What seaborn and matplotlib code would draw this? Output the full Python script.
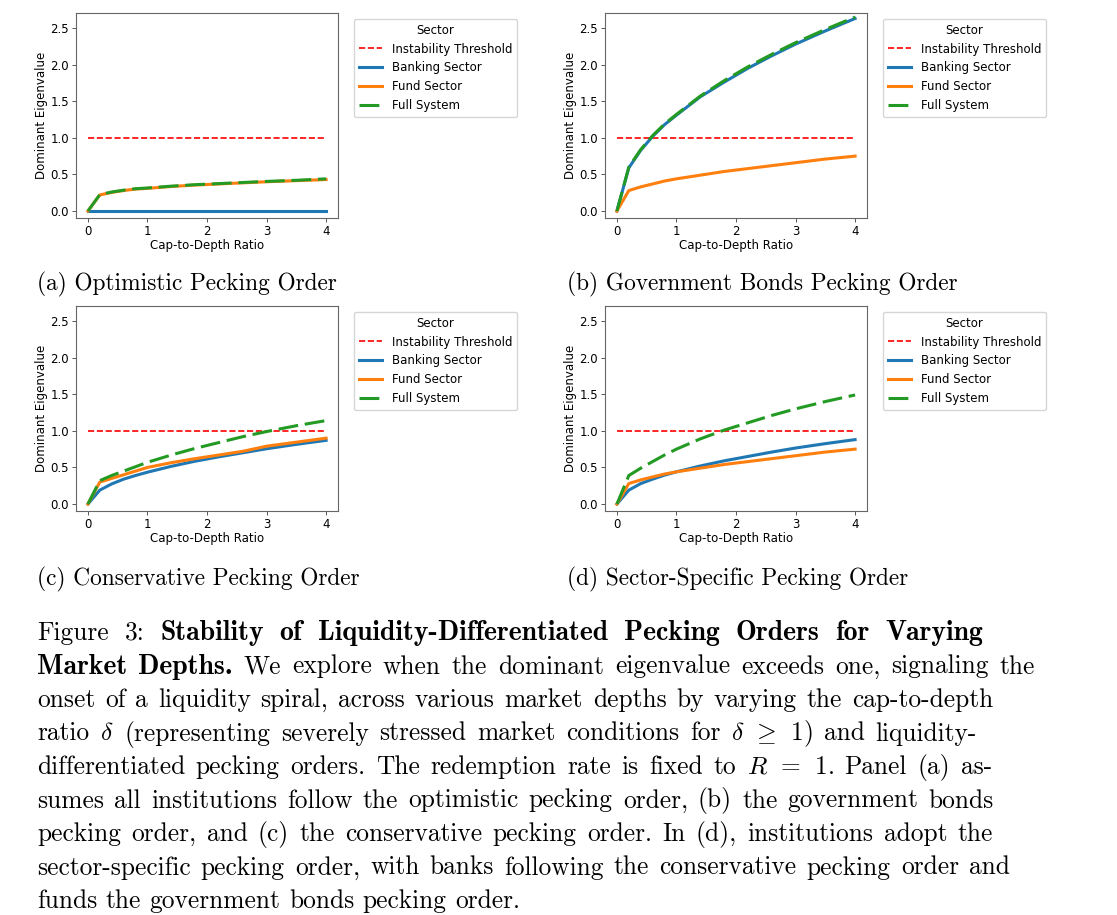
import numpy as np
import pandas as pd
import seaborn as sns
import matplotlib.pyplot as plt

# ==========================
# Data
# ==========================

# cap-to-depth ratio grid
ratio = [0, 0.2, 0.4, 0.6, 0.8, 1.0, 1.4, 1.8, 2.2, 2.6, 3.0, 3.5, 4.0]

# instability threshold
threshold_x = [0, 4]
threshold_y = [1.0, 1.0]

# (a) optimistic pecking order
opt_bank = [0, 0, 0, 0, 0, 0, 0, 0, 0, 0, 0, 0, 0]
opt_fund = [0, 0.22, 0.255, 0.28, 0.30, 0.31, 0.335, 0.355, 0.37, 0.385, 0.40, 0.415, 0.43]
opt_full = [0, 0.225, 0.26, 0.285, 0.305, 0.315, 0.34, 0.36, 0.375, 0.39, 0.405, 0.42, 0.44]

# (b) government bonds pecking order
gov_bank = [0, 0.59, 0.83, 1.02, 1.18, 1.31, 1.56, 1.76, 1.95, 2.12, 2.28, 2.46, 2.63]
gov_fund = [0, 0.28, 0.33, 0.37, 0.41, 0.44, 0.49, 0.54, 0.58, 0.62, 0.66, 0.71, 0.75]
gov_full = [0, 0.60, 0.84, 1.03, 1.19, 1.32, 1.57, 1.78, 1.97, 2.14, 2.30, 2.48, 2.65]

# (c) conservative pecking order
con_bank = [0, 0.19, 0.275, 0.34, 0.39, 0.435, 0.515, 0.585, 0.645, 0.70, 0.755, 0.815, 0.87]
con_fund = [0, 0.30, 0.35, 0.40, 0.45, 0.50, 0.565, 0.62, 0.67, 0.72, 0.79, 0.845, 0.90]
con_full = [0, 0.32, 0.39, 0.45, 0.51, 0.57, 0.67, 0.76, 0.84, 0.92, 0.99, 1.07, 1.14]

# (d) sector-specific pecking order
sec_bank = [0, 0.19, 0.28, 0.34, 0.395, 0.44, 0.52, 0.59, 0.65, 0.71, 0.765, 0.825, 0.88]
sec_fund = [0, 0.28, 0.33, 0.37, 0.41, 0.44, 0.49, 0.54, 0.58, 0.62, 0.66, 0.71, 0.75]
sec_full = [0, 0.39, 0.49, 0.58, 0.67, 0.75, 0.89, 1.01, 1.11, 1.21, 1.30, 1.40, 1.49]

sectors = ["Banking Sector", "Fund Sector", "Full System"]
panel_titles = [
    "(a) Optimistic Pecking Order",
    "(b) Government Bonds Pecking Order",
    "(c) Conservative Pecking Order",
    "(d) Sector-Specific Pecking Order",
]
panel_series = [
    (opt_bank, opt_fund, opt_full),
    (gov_bank, gov_fund, gov_full),
    (con_bank, con_fund, con_full),
    (sec_bank, sec_fund, sec_full),
]

caption_lines = [
    [("Figure 3:", False), ("Stability of Liquidity-Differentiated Pecking Orders for Varying", True)],
    [("Market Depths.", True), ("We explore when the dominant eigenvalue exceeds one, signaling the", False)],
    [("onset of a liquidity spiral, across various market depths by varying the cap-to-depth", False)],
    [(r"ratio $\delta$ (representing severely stressed market conditions for $\delta\;\,\geq\;\,1$) and liquidity-", False)],
    [(r"differentiated pecking orders. The redemption rate is fixed to $R\;\,=\;\,1$. Panel (a) as-", False)],
    [("sumes all institutions follow the optimistic pecking order, (b) the government bonds", False)],
    [("pecking order, and (c) the conservative pecking order. In (d), institutions adopt the", False)],
    [("sector-specific pecking order, with banks following the conservative pecking order and", False)],
    [("funds the government bonds pecking order.", False)],
]
# right edge (px) of each justified caption line; None = last line, not stretched
caption_right = [983, 1035, 993, 977, 992, 994, 993, 1010, None]

# ==========================
# Style
# ==========================

plt.rcParams["mathtext.fontset"] = "cm"
plt.rcParams["font.family"] = ["DejaVu Sans"]

palette = {"Banking Sector": "#1f77b4", "Fund Sector": "#ff7f0e", "Full System": "#239a23"}
dashes = {"Banking Sector": "", "Fund Sector": "", "Full System": (6.5, 2.2)}

W, H = 1117, 915
fig = plt.figure(figsize=(W / 100, H / 100), dpi=100)


def px_box(left, top, width, height):
    return [left / W, 1 - (top + height) / H, width / W, height / H]


# panel boxes in pixels: left, top
panel_boxes = [(76, 13), (605, 13), (76, 306), (605, 306)]
caption_pos = [(37, 290), (567, 290), (37, 585), (567, 585)]

for i in range(4):
    left, top = panel_boxes[i]
    ax = fig.add_axes(px_box(left, top, 262, 205))
    bank, fund, full = panel_series[i]
    df = pd.DataFrame({
        "ratio": ratio * 3,
        "value": bank + fund + full,
        "Sector": np.repeat(sectors, len(ratio)),
    })

    sns.lineplot(x=threshold_x, y=threshold_y, color="red", linestyle="--",
                 linewidth=1.2, label="Instability Threshold", ax=ax)
    sns.lineplot(data=df, x="ratio", y="value", hue="Sector", style="Sector",
                 hue_order=sectors, style_order=sectors, palette=palette,
                 dashes=dashes, linewidth=2.2, ax=ax)

    ax.set_xlim(-0.2, 4.2)
    ax.set_ylim(-0.095, 2.705)
    ax.set_xticks([0, 1, 2, 3, 4])
    ax.set_yticks([0.0, 0.5, 1.0, 1.5, 2.0, 2.5])
    ax.set_yticklabels(["0.0", "0.5", "1.0", "1.5", "2.0", "2.5"])
    ax.set_xlabel("Cap-to-Depth Ratio", fontsize=8.5, labelpad=1)
    ax.set_ylabel("Dominant Eigenvalue", fontsize=8.5, labelpad=2)
    ax.tick_params(labelsize=8.5, length=3, width=0.7, pad=2, color="#555555")
    for s in ax.spines.values():
        s.set_color("#666666")
        s.set_linewidth(0.8)

    handles, labels = ax.get_legend_handles_labels()
    ax.legend(handles, labels, title="Sector", loc="upper left",
              bbox_to_anchor=(1.061, 0.971), borderaxespad=0,
              fontsize=8.5, title_fontsize=8.5, frameon=True)

    cx, cy = caption_pos[i]
    fig.text(cx / W, 1 - cy / H, panel_titles[i], family="cmr10",
             fontsize=16.8, va="baseline", ha="left")

# ==========================
# Figure caption (justified)
# ==========================

renderer = fig.canvas.get_renderer()
cap_fs = 18.3
bold_fs = 20.0
natural_space = 0.333 * cap_fs * 100 / 72
for j, runs in enumerate(caption_lines):
    y = 640 + 33.5 * j
    words = []
    for text, bold in runs:
        for w in text.split(" "):
            words.append((w, bold))
    texts = []
    for w, bold in words:
        t = fig.text(0, 1 - y / H, w, family="cmb10" if bold else "cmr10",
                     fontsize=bold_fs if bold else cap_fs,
                     va="baseline", ha="left")
        texts.append(t)
    widths = [t.get_window_extent(renderer).width for t in texts]
    if caption_right[j] is None:
        gap = natural_space
    else:
        gap = (caption_right[j] - 37 - sum(widths)) / (len(words) - 1)
    x = 37
    for t, wd in zip(texts, widths):
        t.set_x(x / W)
        x += wd + gap

fig.savefig("out.png", dpi=100)
